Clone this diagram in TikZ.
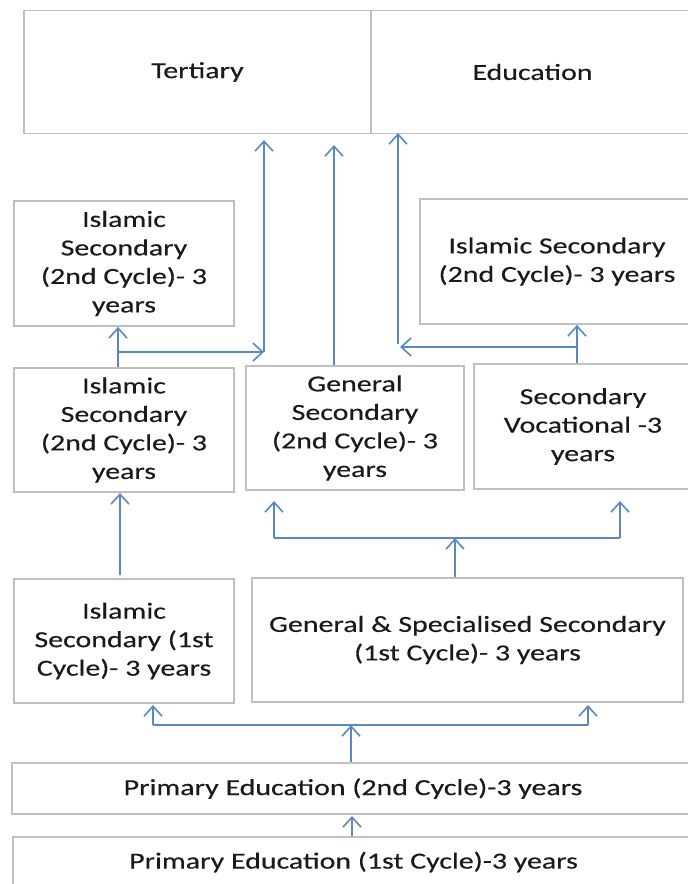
\documentclass[tikz,border=0pt]{standalone}
\usepackage{fontspec}
\setmainfont{Carlito}[FakeStretch=1.3,FakeBold=0.3]
\usetikzlibrary{arrows.meta}
\definecolor{bordergray}{HTML}{BFBFBF}
\definecolor{arrowblue}{HTML}{5B87C5}
\definecolor{txtcol}{HTML}{1A1A1A}
\begin{document}
\begin{tikzpicture}[x=1pt,y=-1pt,
  bx/.style={draw=bordergray, line width=1.8pt, fill=white, inner sep=0pt, align=center,
    text=txtcol, font=\fontsize{23}{28.5}\selectfont},
  arr/.style={draw=arrowblue, line width=1.6pt, -{Straight Barb[length=10pt,width=18pt,line width=1.6pt]}},
  ln/.style={draw=arrowblue, line width=1.6pt}]
\useasboundingbox (0,0) rectangle (688,884);
\begin{scope}
\clip (0,0) rectangle (688,884);
% boxes
\node[bx, minimum width=347pt, minimum height=123pt] (ter) at (197.5,72) {Tertiary};
\node[bx, minimum width=323pt, minimum height=123pt] (edu) at (532.5,72) {Education};
\node[bx, minimum width=220pt, minimum height=125pt] (isla) at (124,263.5) {Islamic\\Secondary\\(2nd Cycle)- 3\\years};
\node[bx, minimum width=274pt, minimum height=125pt] (islr) at (557,261.5) {Islamic Secondary\\(2nd Cycle)- 3 years};
\node[bx, minimum width=220pt, minimum height=124pt] (islb) at (124,430) {Islamic\\Secondary\\(2nd Cycle)- 3\\years};
\node[bx, minimum width=218pt, minimum height=124pt] (gen) at (355,428) {General\\Secondary\\(2nd Cycle)- 3\\years};
\node[bx, minimum width=218pt, minimum height=125pt] (voc) at (583,426.5) {Secondary\\Vocational -3\\years};
\node[bx, minimum width=220pt, minimum height=124pt] (isl1) at (124,641) {Islamic\\Secondary (1st\\Cycle)- 3 years};
\node[bx, minimum width=431pt, minimum height=124pt] (gs1) at (467.5,640) {General \& Specialised Secondary\\(1st Cycle)- 3 years};
\node[bx, minimum width=682pt, minimum height=51pt] (p2) at (353,788.5) {Primary Education (2nd Cycle)-3 years};
\node[bx, minimum width=681pt, minimum height=50pt] (p1) at (353.5,862) {Primary Education (1st Cycle)-3 years};
% junction coordinates
\coordinate (jl) at (118,352);
\coordinate (jr) at (577,347);
\coordinate (jg) at (455,538);
\coordinate (jgl) at (274,538);
\coordinate (jgr) at (620,538);
\coordinate (jp) at (351,725);
\coordinate (jpl) at (153,725);
\coordinate (jpr) at (588,725);
\coordinate (tl) at (264,140);
\coordinate (tm) at (334,145);
\coordinate (tr) at (398,133);
% connectors
\draw[arr] (islb.north -| jl) -- (isla.south -| jl);
\draw[arr] (jl) -- (jl -| tl);
\draw[arr] (jl -| tl) -- (tl);
\draw[arr] (gen.north -| tm) -- (tm);
\draw[arr] (voc.north -| jr) -- (islr.south -| jr);
\draw[arr] (jr) -- (400,347);
\draw[arr] (398,344) -- (tr);
\draw[arr] (120,575) -- (120,493);
\draw[arr] (gs1.north -| jg) -- (jg);
\draw[ln] (jgl) -- (jgr);
\draw[arr] (jgl) -- (274,501);
\draw[arr] (jgr) -- (620,501);
\draw[arr] (p2.north -| jp) -- (jp);
\draw[ln] (jpl) -- (jpr);
\draw[arr] (jpl) -- (153,705);
\draw[arr] (jpr) -- (588,705);
\draw[arr] (p1.north -| 352,0) -- (352,816);
\end{scope}
\end{tikzpicture}
\end{document}
